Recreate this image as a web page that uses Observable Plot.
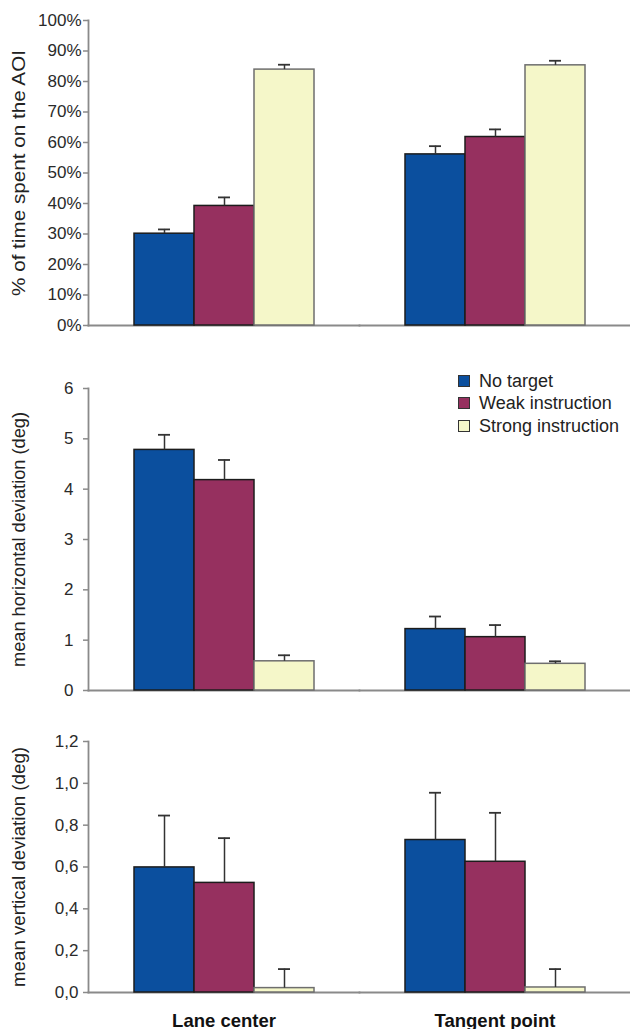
<!DOCTYPE html>
<html>
<head>
<meta charset="utf-8">
<script src="https://cdn.jsdelivr.net/npm/d3@7"></script>
<script src="https://cdn.jsdelivr.net/npm/@observablehq/plot@0.6"></script>
<style>
  html, body { margin: 0; padding: 0; background: #fff; }
  #wrap { position: relative; width: 630px; height: 1029px; font-family: "Liberation Sans", Arial, sans-serif; }
  #wrap svg { display: block; }
  #legend { position: absolute; left: 458px; top: 370px; font-size: 18px; color: #222; line-height: 22.3px; }
  #legend .row { display: flex; align-items: center; white-space: nowrap; }
  #legend .sw { width: 10px; height: 10px; border: 1.5px solid #333; margin-right: 9px; }
</style>
</head>
<body>
<div id="wrap"></div>
<script>
// ---- data ----
const groups = ["Lane center", "Tangent point"];
const conditions = ["No target", "Weak instruction", "Strong instruction"];
const colors = ["#0b4f9e", "#96305f", "#f5f7c9"];

// % of time spent on the AOI (fraction), mean and error
const aoiLane = [0.301, 0.392, 0.839];
const aoiLaneErr = [0.014, 0.028, 0.016];
const aoiTangent = [0.561, 0.618, 0.853];
const aoiTangentErr = [0.027, 0.025, 0.015];

// mean horizontal deviation (deg)
const horLane = [4.78, 4.18, 0.58];
const horLaneErr = [0.30, 0.40, 0.12];
const horTangent = [1.22, 1.06, 0.53];
const horTangentErr = [0.25, 0.24, 0.05];

// mean vertical deviation (deg)
const verLane = [0.598, 0.524, 0.021];
const verLaneErr = [0.248, 0.214, 0.091];
const verTangent = [0.729, 0.625, 0.024];
const verTangentErr = [0.226, 0.234, 0.088];

// tick values
const aoiTicks = [0, 0.1, 0.2, 0.3, 0.4, 0.5, 0.6, 0.7, 0.8, 0.9, 1.0];
const horTicks = [0, 1, 2, 3, 4, 5, 6];
const verTicks = [0, 0.2, 0.4, 0.6, 0.8, 1.0, 1.2];

function rows(lane, laneErr, tan, tanErr) {
  const out = [];
  [[lane, laneErr], [tan, tanErr]].forEach(([v, e], gi) => {
    conditions.forEach((c, ci) => out.push({group: groups[gi], cond: c, value: v[ci], err: e[ci]}));
  });
  return out;
}

function panel({data, domain, ticks, tickFormat, label, height, marginTop, marginBottom, tickPadding, showFx, labelLength}) {
  const marks = [
    Plot.frame({anchor: "bottom", stroke: "#8a8a8a", strokeWidth: 1.8}),
    Plot.frame({anchor: "left", facet: "super", stroke: "#8a8a8a", strokeWidth: 1.8}),
    Plot.axisY({ticks, tickFormat, tickSize: 5, tickPadding, stroke: "#8a8a8a", strokeWidth: 1.5, color: "#2a2a2a",
      label, labelAnchor: "center", labelArrow: "none", labelOffset: 76}),
    Plot.barY(data, {filter: d => d.cond !== "Strong instruction", fx: "group", x: "cond", y: "value", fill: "cond", stroke: "#1c1c1c", strokeWidth: 1.5}),
    Plot.barY(data, {filter: d => d.cond === "Strong instruction", fx: "group", x: "cond", y: "value", fill: "cond", stroke: "#6e6e6e", strokeWidth: 1.5}),
    Plot.ruleX(data, {fx: "group", x: "cond", y1: "value", y2: d => d.value + d.err, stroke: "#333", strokeWidth: 1.5}),
    Plot.tickY(data, {fx: "group", x: "cond", y: d => d.value + d.err, insetLeft: 24, insetRight: 24, stroke: "#333", strokeWidth: 1.8})
  ];
  if (showFx) marks.push(Plot.axisFx({anchor: "bottom", tickSize: 0, tickPadding: 21, fontWeight: "bold", fontSize: 18.5, color: "#111", label: null}));
  const svg = Plot.plot({
    width: 630, height, marginLeft: 87, marginRight: 0, marginTop, marginBottom,
    style: {fontFamily: "'Liberation Sans', Arial, sans-serif", fontSize: "17px", background: "#fff", overflow: "visible"},
    fx: {domain: groups, paddingInner: 0, paddingOuter: 0, label: null, axis: showFx ? undefined : null},
    x: {domain: conditions, paddingInner: 0, paddingOuter: 0.75, axis: null},
    y: {domain, label: null, axis: null},
    color: {domain: conditions, range: colors},
    marks
  });
  const lab = svg.querySelector('g[aria-label="y-axis label"] text');
  if (lab) {
    lab.setAttribute("font-size", "18");
    lab.setAttribute("fill", "#222");
    lab.setAttribute("textLength", labelLength);
    lab.setAttribute("lengthAdjust", "spacingAndGlyphs");
  }
  return svg;
}

const wrap = document.getElementById("wrap");
const pct = d3.format(".0%");
const comma = d => d.toFixed(1).replace(".", ",");

wrap.appendChild(panel({
  data: rows(aoiLane, aoiLaneErr, aoiTangent, aoiTangentErr), domain: [0, 1], ticks: aoiTicks, tickFormat: pct,
  label: "% of time spent on the AOI", height: 340, marginTop: 20, marginBottom: 15, tickPadding: 2, showFx: false, labelLength: 246
}));
wrap.appendChild(panel({
  data: rows(horLane, horLaneErr, horTangent, horTangentErr), domain: [0, 6], ticks: horTicks, tickFormat: d => String(d),
  label: "mean horizontal deviation (deg)", height: 360, marginTop: 48, marginBottom: 10, tickPadding: 10, showFx: false, labelLength: 255
}));
wrap.appendChild(panel({
  data: rows(verLane, verLaneErr, verTangent, verTangentErr), domain: [0, 1.2], ticks: verTicks, tickFormat: comma,
  label: "mean vertical deviation (deg)", height: 329, marginTop: 41, marginBottom: 37, tickPadding: 5, showFx: true, labelLength: 240
}));

// legend
const legend = document.createElement("div");
legend.id = "legend";
conditions.forEach((c, i) => {
  const row = document.createElement("div");
  row.className = "row";
  const sw = document.createElement("span");
  sw.className = "sw";
  sw.style.background = colors[i];
  const t = document.createElement("span");
  t.textContent = c;
  row.appendChild(sw); row.appendChild(t);
  legend.appendChild(row);
});
wrap.appendChild(legend);
</script>
</body>
</html>
